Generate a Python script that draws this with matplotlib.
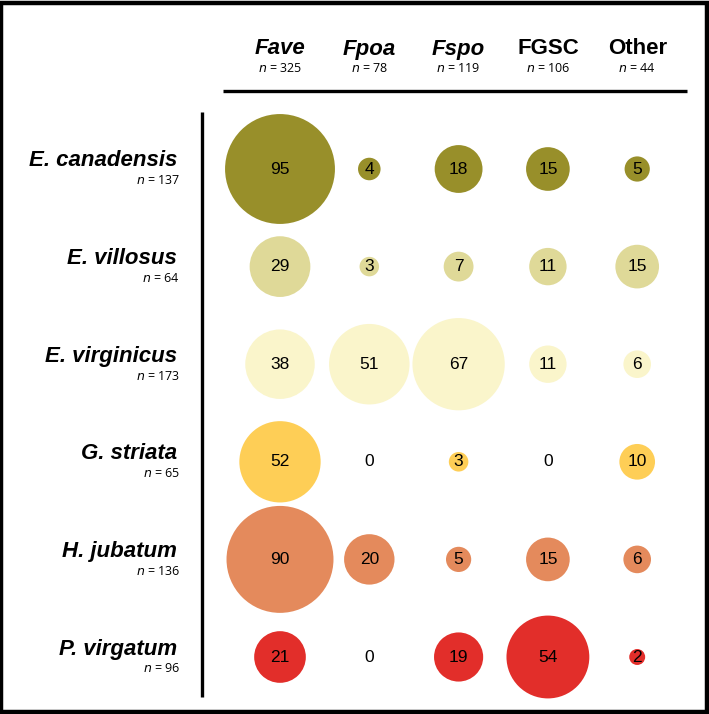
#!/usr/bin/env python3
"""
バブルグリッド - 宿主植物ごとの系統別分離株数
"""

import matplotlib

matplotlib.use("Agg")
import matplotlib.pyplot as plt
import numpy as np
from matplotlib.patches import Rectangle

# データ
hosts = ["E. canadensis", "E. villosus", "E. virginicus", "G. striata", "H. jubatum", "P. virgatum"]
host_n = [137, 64, 173, 65, 136, 96]
groups = ["Fave", "Fpoa", "Fspo", "FGSC", "Other"]
group_italic = [True, True, True, False, False]
group_n = [325, 78, 119, 106, 44]
counts = np.array([
    [95, 4, 18, 15, 5],
    [29, 3, 7, 11, 15],
    [38, 51, 67, 11, 6],
    [52, 0, 3, 0, 10],
    [90, 20, 5, 15, 6],
    [21, 0, 19, 54, 2],
])
host_colors = ["#988f2a", "#dfd998", "#faf5cb", "#fece56", "#e48a5c", "#e22e2a"]

# レイアウト（ピクセル基準）
W, H = 709, 714
COL0, COL_STEP = 280, 89.3
ROW0, ROW_STEP = 169, 97.6


def px_x(x):
    return (x - COL0) / COL_STEP


def px_y(y):
    return (y - ROW0) / ROW_STEP


fig = plt.figure(figsize=(W / 100, H / 100), dpi=100)
ax = fig.add_axes([0, 0, 1, 1])
ax.set_xlim(px_x(0), px_x(W))
ax.set_ylim(px_y(H), px_y(0))
ax.axis("off")

# バブル（面積 ∝ 件数）
xs, ys = np.meshgrid(np.arange(len(groups)), np.arange(len(hosts)))
colors = np.repeat(host_colors, len(groups))
ax.scatter(xs.ravel(), ys.ravel(), s=65.9 * counts.ravel(), c=colors, linewidths=0, zorder=2)

for j in range(len(hosts)):
    for i in range(len(groups)):
        ax.text(i, j, str(counts[j, i]), ha="center", va="center", fontsize=12.5,
                family="Liberation Sans", zorder=3)

# 列ヘッダー
for i, (g, it, n) in enumerate(zip(groups, group_italic, group_n)):
    ax.text(i, px_y(49), g, ha="center", va="center", fontsize=16, fontweight="bold",
            style="italic" if it else "normal", family="Liberation Sans")
    ax.text(i, px_y(68), f"$\\it{{n}}$ = {n}", ha="center", va="center", fontsize=9,
            family="Open Sans")

# 行ラベル
for j, (h, n) in enumerate(zip(hosts, host_n)):
    ax.text(px_x(177), j - 8 / ROW_STEP, h, ha="right", va="center", fontsize=16,
            fontweight="bold", style="italic", family="Liberation Sans")
    ax.text(px_x(180), j + 12 / ROW_STEP, f"$\\it{{n}}$ = {n}", ha="right", va="center",
            fontsize=9, family="Open Sans")

# 区切り線
ax.plot([px_x(223), px_x(687)], [px_y(91), px_y(91)], color="black", lw=2.4,
        solid_capstyle="butt")
ax.plot([px_x(202), px_x(202)], [px_y(112), px_y(697)], color="black", lw=2.4,
        solid_capstyle="butt")

# 外枠
fig.patches.append(Rectangle((0.002, 0.003), 0.995, 0.993, transform=fig.transFigure,
                             fill=False, edgecolor="black", lw=3.2))

fig.savefig("out.png", dpi=100)
